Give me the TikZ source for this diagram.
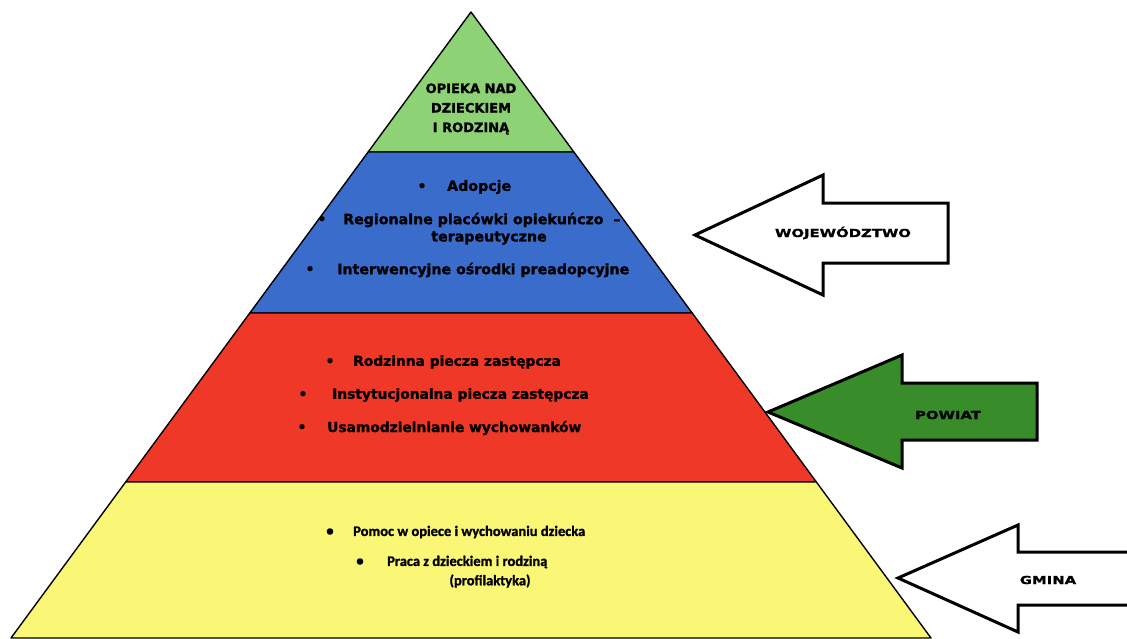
\documentclass[tikz,border=0pt]{standalone}
\usepackage{fontspec}
\setmainfont{DejaVu Sans}[BoldFeatures={FakeBold=1.3}]
\newfontfamily\calibrifont{Carlito}[BoldFeatures={FakeBold=1.2}]
\newfontfamily\widefont{DejaVu Sans}[FakeStretch=1.35, BoldFeatures={FakeBold=1.2}]
\usepackage{tikz}
\usetikzlibrary{positioning,calc}
\usepackage{xcolor}
\definecolor{levelGreen}{RGB}{142,210,118}
\definecolor{levelBlue}{RGB}{58,108,204}
\definecolor{levelRed}{RGB}{240,56,40}
\definecolor{levelYellow}{RGB}{250,246,118}
\definecolor{arrowGreen}{RGB}{56,140,42}
\tikzstyle{band} = [draw=black, line width=1.4pt, line join=round]
\tikzstyle{levelArrow} = [draw=black, line width=3pt, line join=miter]
\tikzstyle{levelLabel} = [font=\widefont\bfseries\fontsize{11}{13}\selectfont, inner sep=0pt]
\tikzstyle{item} = [anchor=west, inner sep=0pt, font=\bfseries\fontsize{13.8}{16}\selectfont]
\tikzstyle{dot} = [inner sep=0pt, font=\bfseries\fontsize{13.8}{16}\selectfont]
\tikzstyle{gminaItem} = [anchor=west, inner sep=0pt, font=\calibrifont\bfseries\fontsize{14.5}{17}\selectfont]
\tikzstyle{gminaDot} = [inner sep=0pt, font=\calibrifont\bfseries\fontsize{14.5}{17}\selectfont]

\begin{document}
\begin{tikzpicture}[x=1pt, y=-1pt,
    blueItem/.style={item, font=\bfseries\fontsize{14.2}{16}\selectfont}]

\clip (0,0) rectangle (1127,638);

% Pyramid corners
\coordinate (apex) at (471,12);
\coordinate (bl) at (11,638);
\coordinate (br) at (931,638);
\coordinate (l1) at ($(apex)!0.2236!(bl)$);
\coordinate (r1) at ($(apex)!0.2236!(br)$);
\coordinate (l2) at ($(apex)!0.4808!(bl)$);
\coordinate (r2) at ($(apex)!0.4808!(br)$);
\coordinate (l3) at ($(apex)!0.7508!(bl)$);
\coordinate (r3) at ($(apex)!0.7508!(br)$);

% Pyramid bands
\filldraw[band, fill=levelGreen]  (apex) -- (l1) -- (r1) -- cycle;
\filldraw[band, fill=levelBlue]   (l1) -- (l2) -- (r2) -- (r1) -- cycle;
\filldraw[band, fill=levelRed]    (l2) -- (l3) -- (r3) -- (r2) -- cycle;
\filldraw[band, fill=levelYellow] (l3) -- (bl) -- (br) -- (r3) -- cycle;

% Top band
\node[align=center, inner sep=0pt, font=\bfseries\fontsize{13}{19.5}\selectfont] (care) at (471,109)
  {OPIEKA NAD\\DZIECKIEM\\I RODZINĄ};

% Blue band
\node[dot]  (b1) at (422,187) {•};
\node[blueItem] (adopt) at (447,187) {Adopcje};
\node[dot]  (b2) at (322,220) {•};
\node[blueItem] (regional) at (343,220) {Regionalne placówki opiekuńczo~~–};
\node[inner sep=0pt, font=\bfseries\fontsize{14.2}{16}\selectfont] (therapy) at (489,238) {terapeutyczne};
\node[dot]  (b3) at (310,270) {•};
\node[blueItem] (preadopt) at (337,270) {Interwencyjne ośrodki preadopcyjne};

% Red band
\node[dot]  (c1) at (330,362) {•};
\node[item] (family) at (353,362) {Rodzinna piecza zastępcza};
\node[dot]  (c2) at (303,395) {•};
\node[item] (instit) at (332,395) {Instytucjonalna piecza zastępcza};
\node[dot]  (c3) at (302,428) {•};
\node[item] (indep) at (327,428) {Usamodzielnianie wychowanków};

% Yellow band
\node[gminaDot]  (d1) at (330,532) {•};
\node[gminaItem] (help) at (353,532) {Pomoc w opiece i wychowaniu dziecka};
\node[gminaDot]  (d2) at (360,562) {•};
\node[gminaItem] (work) at (387,562) {Praca z dzieckiem i rodziną};
\node[inner sep=0pt, font=\calibrifont\bfseries\fontsize{14.5}{17}\selectfont] (prevent) at (490,581) {(profilaktyka)};

% Arrows
\draw[levelArrow, fill=white] (695,235) -- (823,175) -- (823,203) -- (948,203)
  -- (948,263) -- (823,263) -- (823,295) -- cycle;
\node[levelLabel] (voiv) at (843,233) {WOJEWÓDZTWO};

\draw[levelArrow, fill=arrowGreen] (768,412) -- (902,355) -- (902,383) -- (1037,383)
  -- (1037,440) -- (902,440) -- (902,468) -- cycle;
\node[levelLabel] (county) at (948,415) {POWIAT};

\draw[levelArrow, fill=white] (898,578) -- (1018,525) -- (1018,552) -- (1140,552)
  -- (1140,605) -- (1018,605) -- (1018,632) -- cycle;
\node[levelLabel] (commune) at (1048,580) {GMINA};

\end{tikzpicture}
\end{document}
